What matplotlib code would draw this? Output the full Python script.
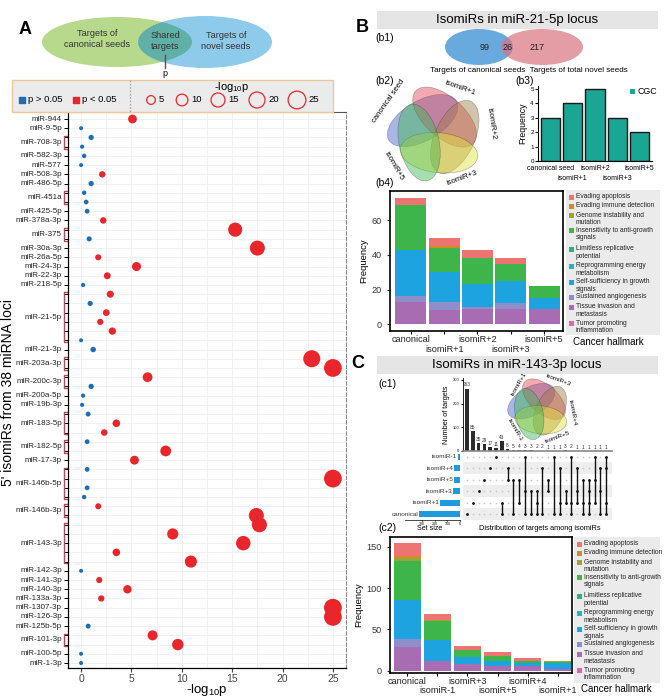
import numpy as np
import matplotlib
matplotlib.use("Agg")
import matplotlib.pyplot as plt
from matplotlib.patches import Ellipse, Rectangle
from matplotlib import transforms

plt.rcParams['font.family'] = ['Liberation Sans', 'DejaVu Sans']
plt.rcParams['mathtext.default'] = 'regular'

W, H = 666, 698

# =====================================================
# DATA - panel A (5' isomiRs of 38 miRNA loci)
# =====================================================

mirnas = ['miR-944', 'miR-9-5p', 'miR-708-3p', 'miR-582-3p', 'miR-577',
          'miR-508-3p', 'miR-486-5p', 'miR-451a', 'miR-425-5p', 'miR-378a-3p',
          'miR-375', 'miR-30a-3p', 'miR-26a-5p', 'miR-24-3p', 'miR-22-3p',
          'miR-218-5p', 'miR-21-5p', 'miR-21-3p', 'miR-203a-3p', 'miR-200c-3p',
          'miR-200a-5p', 'miR-19b-3p', 'miR-183-5p', 'miR-182-5p', 'miR-17-3p',
          'miR-146b-5p', 'miR-146b-3p', 'miR-143-3p', 'miR-142-3p', 'miR-141-3p',
          'miR-140-3p', 'miR-133a-3p', 'miR-1307-3p', 'miR-126-3p', 'miR-125b-5p',
          'miR-101-3p', 'miR-100-5p', 'miR-1-3p']
isomir_counts = [1, 1, 2, 1, 1, 1, 1, 2, 1, 1, 2, 1, 1, 1, 1, 1, 6, 1, 2, 2,
                 1, 1, 3, 2, 1, 4, 2, 5, 1, 1, 1, 1, 1, 1, 1, 2, 1, 1]
neg_log_p = [5.1, 0.0, 1.0, 0.1, 0.3, 0.0, 2.1, 1.0, 0.3, 0.5,
             0.6, 2.2, 15.3, 0.8, 17.5, 1.7, 5.5, 2.6, 0.2,
             2.9, 0.9, 2.5, 1.9, 3.1, 0.0, 1.2, 22.9, 25.0, 6.6, 1.0,
             0.2, 0.1, 0.7, 3.5, 2.3, 0.6, 8.4, 5.3,
             0.6, 25.0, 0.6, 0.3, 1.7, 17.4, 17.7, 9.1, 16.1, 3.5, 10.9,
             0.0, 1.8, 4.6, 2.0, 25.0, 25.0, 0.7, 7.1, 9.6, 0.0, 0.0]
size_legend = [5, 10, 15, 20, 25]

# =====================================================
# DATA - panel B / C
# =====================================================

b1_counts = [99, 26, 217]

cgc_labels = ['canonical seed', 'isomiR+1', 'isomiR+2', 'isomiR+3', 'isomiR+5']
cgc_counts = [3, 4, 5, 3, 2]

hallmarks = ['Evading apoptosis', 'Evading immune detection',
             'Genome instability and\nmutation',
             'Insensitivity to anti-growth\nsignals',
             'Limitless replicative\npotential',
             'Reprogramming energy\nmetabolism',
             'Self-sufficiency in growth\nsignals',
             'Sustained angiogenesis',
             'Tissue invasion and\nmetastasis',
             'Tumor promoting\ninflammation']
hallmark_colors = ['#EE7471', '#D08B2C', '#9BA33A', '#3DB54A', '#2DB07F',
                   '#26B5B5', '#1DA3E0', '#8E8ECB', '#A76CB1', '#E064A8']

b4_groups = ['canonical', 'isomiR+1', 'isomiR+2', 'isomiR+3', 'isomiR+5']
b4_apoptosis = [4, 5, 5, 3, 0]
b4_immune = [0, 1, 0, 0, 0]
b4_genome = [0, 0, 0, 0, 0]
b4_insens = [26, 14, 15, 10, 7]
b4_limitless = [0, 0, 0, 0, 0]
b4_energy = [0, 0, 0, 0, 0]
b4_selfsuff = [27, 17, 13, 13, 6]
b4_angio = [3, 5, 1, 3, 0]
b4_invasion = [13, 8, 9, 9, 9]
b4_inflam = [0, 0, 0, 0, 0]

c2_groups = ['canonical', 'isomiR-1', 'isomiR+3', 'isomiR+5', 'isomiR+4', 'isomiR+1']
c2_apoptosis = [16, 8, 5, 4, 3, 0]
c2_immune = [2, 0, 0, 0, 0, 0]
c2_genome = [4, 1, 0, 0, 0, 1]
c2_insens = [47, 23, 8, 6, 3, 1]
c2_limitless = [0, 0, 0, 0, 0, 0]
c2_energy = [0, 0, 0, 0, 0, 0]
c2_selfsuff = [48, 25, 9, 7, 4, 7]
c2_angio = [10, 0, 0, 0, 0, 0]
c2_invasion = [28, 12, 8, 5, 5, 2]
c2_inflam = [0, 0, 0, 0, 0, 0]

upset_sets = ['isomiR-1', 'isomiR+4', 'isomiR+5', 'isomiR+3', 'isomiR+1', 'canonical']
set_sizes = [18, 45, 48, 58, 155, 320]
upset_counts = [263, 85, 35, 29, 17, 11, 43, 8, 5, 4, 3, 3, 2, 2, 1, 1, 1,
                3, 2, 1, 1, 1, 1, 1, 1]
upset_members = [
    ['canonical'], ['isomiR+1'], ['isomiR+3'], ['isomiR+5'], ['isomiR+4'],
    ['isomiR-1'], ['isomiR+1', 'canonical'], ['isomiR+4', 'isomiR+5'],
    ['isomiR+5', 'canonical'], ['isomiR+5', 'isomiR+1'],
    ['isomiR-1', 'isomiR+3', 'canonical'], ['isomiR+3', 'canonical'],
    ['isomiR+3', 'isomiR+1', 'canonical'], ['isomiR+4', 'canonical'],
    ['isomiR+5', 'isomiR+3'], ['isomiR-1', 'canonical'],
    ['isomiR+4', 'isomiR+1', 'canonical'], ['isomiR+3', 'isomiR+1'],
    ['isomiR-1', 'isomiR+1', 'canonical'], ['isomiR+4', 'isomiR+3', 'isomiR+1'],
    ['isomiR+5', 'isomiR+1', 'canonical'],
    ['isomiR+5', 'isomiR+3', 'isomiR+1', 'canonical'],
    ['isomiR-1', 'isomiR+5', 'isomiR+1'], ['isomiR+4', 'isomiR+3', 'canonical'],
    ['isomiR-1', 'isomiR+4', 'isomiR+1', 'canonical']]

RED = '#E8262B'
BLUE = '#1F6DB5'

# =====================================================
# HELPERS
# =====================================================

fig = plt.figure(figsize=(W / 100, H / 100), dpi=100)


def px_axes(x0, y0, x1, y1, **kw):
    return fig.add_axes([x0 / W, 1 - y1 / H, (x1 - x0) / W, (y1 - y0) / H], **kw)


def dot_size(v):
    d = np.sqrt(16 + 12 * np.asarray(v, dtype=float))
    return (d * 0.72) ** 2


def stacked_bars(ax, groups, layers, width):
    x = np.arange(len(groups))
    bottom = np.zeros(len(groups))
    # bottom-up order: last hallmark at the bottom
    for vals, col in reversed(layers):
        vals = np.array(vals, dtype=float)
        ax.bar(x, vals, bottom=bottom, width=width, color=col, linewidth=0)
        bottom += vals
    ax.set_xticks(x)
    ax.set_xticklabels([])
    tr = transforms.blended_transform_factory(ax.transData, ax.transAxes)
    for i, g in enumerate(groups):
        ax.text(i, -0.06 if i % 2 == 0 else -0.13, g, transform=tr,
                ha='center', va='center', fontsize=6.6, color='#222222')
    for s in ax.spines.values():
        s.set_linewidth(1.2)
    ax.tick_params(axis='y', labelsize=6.6, length=2.5, colors='#333333')
    ax.tick_params(axis='x', length=2.5)
    ax.set_ylabel('Frequency', fontsize=6.8, labelpad=2)


# =====================================================
# PANEL A - dot plot
# =====================================================

axA = px_axes(68, 112, 346, 668)
vals = np.array(neg_log_p)
ypos = -np.arange(len(vals))
sig = vals > -np.log10(0.05)
cols = np.where(sig, RED, BLUE)
axA.scatter(vals, ypos, s=dot_size(vals), c=cols, linewidths=0, zorder=3, clip_on=False)
axA.set_xlim(-1.3, 26.3)
axA.set_ylim(-59.54, 0.76)
axA.set_xticks([0, 5, 10, 15, 20, 25])
axA.set_xticks([2.5, 7.5, 12.5, 17.5, 22.5], minor=True)
axA.set_yticks(ypos)
axA.set_yticklabels([])
axA.tick_params(axis='y', length=3, width=0.7)
axA.tick_params(axis='x', labelsize=7.5, length=3, pad=1.5, colors='#444444')
axA.tick_params(axis='x', which='minor', length=0)
axA.grid(True, which='both', color='#EFEFEF', linewidth=0.6, zorder=0)
axA.set_axisbelow(True)
axA.spines['left'].set_linewidth(0.9)
axA.spines['bottom'].set_linewidth(0.9)
axA.spines['top'].set_color('#555555')
axA.spines['right'].set_linestyle((0, (3, 2)))
axA.spines['right'].set_color('#8A8A8A')

trA = transforms.blended_transform_factory(axA.transAxes, axA.transData)
start = 0
for name, n in zip(mirnas, isomir_counts):
    rows = np.arange(start, start + n)
    yc = -rows.mean()
    axA.text(-0.022, yc, name, transform=trA, ha='right', va='center',
             fontsize=5.8, color='#222222')
    if n > 1:
        y_top = -rows[0] + 0.2
        y_bot = -rows[-1] - 0.2
        axA.plot([-0.004, -0.013, -0.013, -0.004], [y_top, y_top, y_bot, y_bot],
                 transform=trA, color='#B04A5A', lw=1.0, clip_on=False)
    start += n

# =====================================================
# PANEL B - b3 CGC bars
# =====================================================

axB3 = px_axes(538, 86, 652, 161)
axB3.set_facecolor('none')
xb = np.arange(len(cgc_counts))
axB3.bar(xb, cgc_counts, width=0.86, color='#1AA595', edgecolor='#1A1A1A', linewidth=1.0)
axB3.set_xlim(-0.55, 4.55)
axB3.set_ylim(0, 5.2)
axB3.set_yticks([0, 1, 2, 3, 4, 5])
axB3.tick_params(axis='y', labelsize=4.5, length=2, pad=1)
axB3.set_xticks(xb)
axB3.set_xticklabels([])
axB3.tick_params(axis='x', length=0)
for s in ['top', 'right']:
    axB3.spines[s].set_visible(False)
for i, g in enumerate(cgc_labels):
    axB3.text(i, -0.55 if i % 2 == 0 else -1.2, g, ha='center', va='center', fontsize=5, clip_on=False)
axB3.set_ylabel('Frequency', fontsize=6.3, labelpad=2)

# =====================================================
# PANEL B - b4 hallmark stack
# =====================================================

axB4 = px_axes(390, 191, 563, 331)
stacked_bars(axB4, b4_groups,
             list(zip([b4_apoptosis, b4_immune, b4_genome, b4_insens, b4_limitless,
                       b4_energy, b4_selfsuff, b4_angio, b4_invasion, b4_inflam],
                      hallmark_colors)), 0.93)
axB4.set_xlim(-0.63, 4.57)
axB4.set_ylim(-4, 77)
axB4.set_yticks([0, 20, 40, 60])

# =====================================================
# PANEL C - c1 upset plot
# =====================================================

n_col = len(upset_counts)
axU = px_axes(463, 378, 612, 451)
axU.set_facecolor('none')
xu = np.arange(n_col)
axU.bar(xu, upset_counts, width=0.6, color='#2B2B2B')
for j, c in enumerate(upset_counts):
    axU.text(j, c + 5, str(c), ha='center', va='bottom', fontsize=3.4, color='#333333')
axU.set_xlim(-0.69, 25)
axU.set_ylim(0, 308)
axU.set_yticks([0, 100, 200, 300])
axU.tick_params(axis='y', labelsize=3, length=1.5, pad=1)
axU.set_xticks([])
for s in ['top', 'right']:
    axU.spines[s].set_visible(False)
axU.spines['bottom'].set_color('#888888')
axU.spines['bottom'].set_linewidth(1.2)
axU.spines['left'].set_linewidth(0.6)
axU.set_ylabel('Number of targets', fontsize=5.3, labelpad=2)

axM = px_axes(463, 451, 612, 520)
nset = len(upset_sets)
for r in range(nset):
    if r % 2 == 1:
        axM.axhspan(r - 0.5, r + 0.5, color='#EEEEEE', zorder=0, lw=0)
for j, members in enumerate(upset_members):
    rr = [upset_sets.index(m) for m in members]
    axM.scatter([j] * nset, range(nset), s=1.5, color='#C8C8C8', zorder=1, linewidths=0)
    axM.scatter([j] * len(rr), rr, s=4, color='#111111', zorder=3, linewidths=0)
    if len(rr) > 1:
        axM.plot([j, j], [min(rr), max(rr)], color='#111111', lw=1.0, zorder=2)
axM.set_xlim(-0.69, 25)
axM.set_ylim(nset - 0.5, -0.5)
axM.axis('off')

axS = px_axes(405, 451, 460, 520)
axS.barh(range(nset), set_sizes, height=0.55, color='#1F9BDD')
for r, (nm, sz) in enumerate(zip(upset_sets, set_sizes)):
    axS.annotate(nm, (sz, r), xytext=(-0.5, 0), textcoords='offset points',
                 ha='right', va='center', fontsize=4.6, color='#333333', annotation_clip=False)
axS.set_xlim(433, 0)
axS.set_ylim(nset - 0.5, -0.5)
axS.set_xticks([300, 200, 100, 0])
axS.tick_params(axis='x', labelsize=2.6, length=1, pad=0.5)
axS.set_yticks([])
for s in ['top', 'right', 'left']:
    axS.spines[s].set_visible(False)
axS.spines['bottom'].set_linewidth(0.5)
axS.set_facecolor('none')

# =====================================================
# PANEL C - c2 hallmark stack
# =====================================================

axC2 = px_axes(390, 537, 572, 673)
stacked_bars(axC2, c2_groups,
             list(zip([c2_apoptosis, c2_immune, c2_genome, c2_insens, c2_limitless,
                       c2_energy, c2_selfsuff, c2_angio, c2_invasion, c2_inflam],
                      hallmark_colors)), 0.9)
axC2.set_xlim(-0.58, 5.48)
axC2.set_ylim(-3, 162)
axC2.set_yticks([0, 50, 100, 150])

# =====================================================
# OVERLAY - text, venns, legends
# =====================================================

ov = fig.add_axes([0, 0, 1, 1], zorder=10)
ov.set_xlim(0, W)
ov.set_ylim(H, 0)
ov.axis('off')

# panel letters
ov.text(25, 30, 'A', fontsize=13, fontweight='bold', ha='center', va='center')
ov.text(362, 28, 'B', fontsize=13, fontweight='bold', ha='center', va='center')
ov.text(358, 364, 'C', fontsize=13, fontweight='bold', ha='center', va='center')

# A axis titles
ov.text(207, 690, r'-log$_{10}$p', ha='center', va='center', fontsize=9.5)
ov.text(8, 393, "5' isomiRs from 38 miRNA loci", rotation=90, ha='center',
        va='center', fontsize=10)

# A venn
green = Ellipse((117, 42), 150, 50, fc='#B6D98C', ec='none')
blue = Ellipse((205, 42), 134, 52, fc='#8ECBEA', ec='none')
ov.add_patch(green)
ov.add_patch(blue)
shared = Ellipse((117, 42), 150, 50, fc='#5FB0A6', ec='none')
ov.add_patch(shared)
shared.set_clip_path(blue)
ov.text(97, 39, 'Targets of\ncanonical seeds', ha='center', va='center', fontsize=6.6,
        linespacing=1.15, color='#333333')
ov.text(165, 41, 'Shared\ntargets', ha='center', va='center', fontsize=6.6,
        linespacing=1.15, color='#333333')
ov.text(226, 41, 'Targets of\nnovel seeds', ha='center', va='center', fontsize=6.6,
        linespacing=1.15, color='#333333')
ov.plot([165, 165], [55, 68], color='#A0304A', lw=1)
ov.text(165, 74, 'p', ha='center', va='center', fontsize=6.5)

# A legend box
ov.add_patch(Rectangle((12, 80), 321, 32, fc='#EBEBEB', ec='#F2C49B', lw=1))
ov.plot([130, 130], [80, 112], color='#A0A0A0', lw=0.8, ls=(0, (1.5, 1.5)))
ov.scatter([22], [100], marker='s', s=14, color=BLUE)
ov.text(28, 100, 'p > 0.05', va='center', fontsize=6.8)
ov.scatter([76], [100], marker='s', s=14, color=RED)
ov.text(82, 100, 'p < 0.05', va='center', fontsize=6.8)
ov.text(232, 87, r'-log$_{10}$p', ha='center', va='center', fontsize=8)
leg_x = [151, 182, 218, 257, 297]
ov.scatter(leg_x, [100] * len(leg_x), s=dot_size(size_legend), facecolors='none',
           edgecolors=RED, linewidths=0.9)
for xx, v in zip(leg_x, size_legend):
    ov.text(xx + np.sqrt(16 + 12 * v) / 2 + 3, 100, str(v), va='center', fontsize=6.8)

# B header and b1
ov.add_patch(Rectangle((377, 11), 281, 18, fc='#E5E5E5', ec='none'))
ov.text(517, 20, 'IsomiRs in miR-21-5p locus', ha='center', va='center', fontsize=9.5)
ov.text(375, 38, '(b1)', ha='left', va='center', fontsize=7.5)
ov.add_patch(Ellipse((479, 47), 68, 36, fc='#4F9BD9', ec='none', alpha=0.85))
ov.add_patch(Ellipse((542, 47), 82, 36, fc='#D9737F', ec='none', alpha=0.7))
for xx, c in zip([485, 508, 537], b1_counts):
    ov.text(xx, 47, str(c), ha='center', va='center', fontsize=6.5, color='#222222')
ov.text(529, 71, 'Targets of canonical seeds  Targets of total novel seeds',
        ha='center', va='center', fontsize=5.8)
ov.text(375, 81, '(b2)', ha='left', va='center', fontsize=7.5)
ov.text(515, 81, '(b3)', ha='left', va='center', fontsize=7.5)
ov.add_patch(Rectangle((630, 89), 5, 5, fc='#1AA595', ec='none'))
ov.text(637, 92, 'CGC', va='center', fontsize=6.3)


def venn5(cx, cy, off, a, b, colors, tilt):
    for k, col in enumerate(colors):
        phi = 135 - 72 * k
        ex = cx + off * np.cos(np.deg2rad(phi))
        ey = cy - off * np.sin(np.deg2rad(phi))
        ov.add_patch(Ellipse((ex, ey), 2 * a, 2 * b, angle=-(phi + tilt),
                             fc=col, ec='#333333', lw=0.4, alpha=0.45))


venn5(436, 134, 19, 39, 20, ['#3F5FC9', '#E0434F', '#9C7B45', '#E2E23A', '#3CB64E'], 75)
ov.text(389, 101, 'canonical seed', rotation=55, ha='center', va='center', fontsize=5.5)
ov.text(460, 88, 'isomiR+1', rotation=-20, ha='center', va='center', fontsize=5.5)
ov.text(491, 124, 'isomiR+2', rotation=-82, ha='center', va='center', fontsize=5.5)
ov.text(462, 178, 'isomiR+3', rotation=20, ha='center', va='center', fontsize=5.5)
ov.text(394, 166, 'isomiR+5', rotation=-60, ha='center', va='center', fontsize=5.5)
ov.text(375, 183, '(b4)', ha='left', va='center', fontsize=7.5)


def hallmark_legend(x0, y0, w, h, title_y):
    ov.add_patch(Rectangle((x0, y0), w, h, fc='#EBEBEB', ec='none'))
    offs = [0, 9, 18.5, 33.5, 52, 69, 85, 100, 110, 126.5]
    for lab, col, o in zip(hallmarks, hallmark_colors, offs):
        yy = y0 + 7 + o
        ov.add_patch(Rectangle((x0 + 3, yy - 2.5), 5, 5, fc=col, ec='none'))
        ov.text(x0 + 9.5, yy - 3.8, lab, ha='left', va='top', fontsize=4.8,
                linespacing=1.1, color='#222222')
    ov.text(x0 + 7, title_y, 'Cancer hallmark', ha='left', va='center', fontsize=7)


hallmark_legend(566, 190, 94, 145, 342)

# C header and c1 labels
ov.add_patch(Rectangle((377, 356), 281, 18, fc='#E5E5E5', ec='none'))
ov.text(517, 365, 'IsomiRs in miR-143-3p locus', ha='center', va='center', fontsize=9.5)
ov.text(378, 384, '(c1)', ha='left', va='center', fontsize=7.5)
venn5(539, 409, 11, 26, 14, ['#3F5FC9', '#E0434F', '#9C7B45', '#E2E23A', '#3CB64E'], 75)
ov.text(519, 384, 'isomiR+1', rotation=60, ha='center', va='center', fontsize=4.5)
ov.text(558, 380, 'isomiR+3', rotation=-20, ha='center', va='center', fontsize=4.5)
ov.text(572, 413, 'isomiR+4', rotation=-80, ha='center', va='center', fontsize=4.5)
ov.text(557, 437, 'isomiR+5', rotation=20, ha='center', va='center', fontsize=4.5)
ov.text(515, 430, 'isomiR-1', rotation=-60, ha='center', va='center', fontsize=4.5)
ov.text(430, 529, 'Set size', ha='center', va='center', fontsize=5)
ov.text(540, 528, 'Distribution of targets among isomiRs', ha='center', va='center', fontsize=5.3)
ov.text(378, 528, '(c2)', ha='left', va='center', fontsize=7.5)

hallmark_legend(574, 537, 86, 146, 689)

plt.savefig('out.png', dpi=100)
